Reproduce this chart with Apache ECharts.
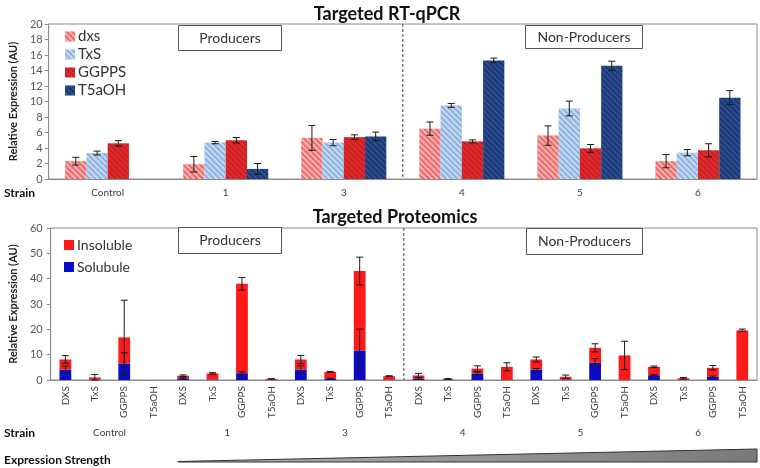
<!DOCTYPE html>
<html><head><meta charset="utf-8">
<script src="https://cdn.jsdelivr.net/npm/echarts@6/dist/echarts.min.js"></script>
<style>html,body{margin:0;padding:0;background:#fff}#c{width:760px;height:468px}</style>
</head><body><div id="c"></div>
<script>
// ---------- DATA ----------
const strains = ['Control', '1', '3', '4', '5', '6'];
const genes = ['DXS', 'TxS', 'GGPPS', 'T5aOH'];
const qpcrNames = ['dxs', 'TxS', 'GGPPS', 'T5aOH'];
const qpcrDxs      = [2.3, 1.9, 5.3, 6.5, 5.6, 2.3];
const qpcrDxsErr   = [0.5, 1.0, 1.6, 0.85, 1.25, 0.85];
const qpcrTxs      = [3.35, 4.7, 4.7, 9.5, 9.1, 3.4];
const qpcrTxsErr   = [0.25, 0.15, 0.4, 0.25, 0.95, 0.4];
const qpcrGgpps    = [4.6, 5.0, 5.4, 4.85, 3.95, 3.7];
const qpcrGgppsErr = [0.35, 0.35, 0.3, 0.2, 0.5, 0.85];
const qpcrT5aoh    = [null, 1.3, 5.5, 15.3, 14.6, 10.5];
const qpcrT5aohErr = [null, 0.7, 0.55, 0.3, 0.6, 0.9];
const qpcrTicks = [0, 2, 4, 6, 8, 10, 12, 14, 16, 18, 20];

// proteomics: 24 bars, order strain x gene
const protSoluble      = [4.1, 0.1, 6.5, 0,   0.6, 0.2, 2.7, 0,   4.15, 0.6, 11.7, 0,   0.6, 0.1, 2.6, 0,   4.15, 0.2, 6.8, 0,   1.9, 0,   1.25, 0];
const protInsoluble    = [4.0, 0.9, 10.3, 0,  1.1, 2.4, 35.3, 0.4, 3.95, 2.6, 31.3, 1.5, 1.2, 0.3, 1.9, 5.2, 3.95, 1.05, 5.9, 9.7, 3.3, 0.7, 3.55, 19.6];
const protTotalErr     = [1.5, 1.2, 14.7, 0,  0.3, 0.3, 2.5, 0.1, 1.6, 0.2, 5.5, 0.2,   0.8, 0.2, 1.1, 1.6, 1.0, 0.7, 1.6, 5.6,   0.3, 0.3, 0.9, 0.5];
const protSolubleErr   = [1.4, 0,   4.2, 0,   0.2, 0,   0.5, 0,   1.5, 0.1, 8.4, 0,     0.3, 0,   0.5, 0,   0.4, 0,   1.7, 0,     0.2, 0,   0.3, 0];
const protTicks = [0, 10, 20, 30, 40, 50, 60];

// ---------- BUILD ----------
const protCats = [];
strains.forEach(s => genes.forEach(g => protCats.push(g)));
const FONT = 'Lato, "Liberation Sans", sans-serif';
const GAP = 0.28;

function errRender(slot, n, gapFrac) {
  return function (params, api) {
    const cat = api.value(0), v = api.value(1), e = api.value(2);
    if (v == null || isNaN(v) || !e) return null;
    const base = api.coord([cat, 0]);
    const band = api.size([1, 0])[0];
    const groupW = band * (1 - gapFrac);
    const bw = groupW / n;
    const x = base[0] - groupW / 2 + bw * (slot + 0.5);
    const yHi = api.coord([cat, v + e])[1];
    const yLo = api.coord([cat, Math.max(0, v - e)])[1];
    const cap = 3.5;
    const st = { stroke: '#1a1a1a', lineWidth: 1 };
    return { type: 'group', children: [
      { type: 'line', shape: { x1: x, y1: yHi, x2: x, y2: yLo }, style: st },
      { type: 'line', shape: { x1: x - cap, y1: yHi, x2: x + cap, y2: yHi }, style: st },
      { type: 'line', shape: { x1: x - cap, y1: yLo, x2: x + cap, y2: yLo }, style: st }
    ]};
  };
}

const qpcrVals = [qpcrDxs, qpcrTxs, qpcrGgpps, qpcrT5aoh];
const qpcrErrs = [qpcrDxsErr, qpcrTxsErr, qpcrGgppsErr, qpcrT5aohErr];
const qpcrStyles = [
  { color: '#f06868', decal: { symbol: 'rect', dashArrayX: [1, 0], dashArrayY: [1.5, 2], rotation: Math.PI / 4, color: 'rgba(255,255,255,0.5)' } },
  { color: '#8cb2e0', decal: { symbol: 'rect', dashArrayX: [1, 0], dashArrayY: [1.5, 2], rotation: Math.PI / 4, color: 'rgba(255,255,255,0.5)' } },
  { color: '#dc2a2c', decal: { symbol: 'rect', dashArrayX: [1, 0], dashArrayY: [1, 2.5], rotation: Math.PI / 4, color: 'rgba(150,0,0,0.4)' } },
  { color: '#1c3b7a', decal: { symbol: 'rect', dashArrayX: [1, 0], dashArrayY: [1, 2.5], rotation: Math.PI / 4, color: 'rgba(120,150,210,0.35)' } }
];

const series = [];
qpcrNames.forEach((nm, k) => {
  series.push({
    name: nm, type: 'bar', xAxisIndex: 0, yAxisIndex: 0,
    data: qpcrVals[k], barGap: 0, barCategoryGap: (GAP * 100) + '%',
    itemStyle: qpcrStyles[k]
  });
});
qpcrNames.forEach((nm, k) => {
  series.push({
    type: 'custom', xAxisIndex: 0, yAxisIndex: 0, z: 10, silent: true,
    renderItem: errRender(k, 4, GAP),
    data: strains.map((s, i) => [i, qpcrVals[k][i], qpcrErrs[k][i]])
  });
});
series.push({
  name: 'Solubule', type: 'bar', stack: 'p', xAxisIndex: 1, yAxisIndex: 1,
  data: protSoluble, barWidth: '40%', itemStyle: { color: '#0a0ac8' }
});
series.push({
  name: 'Insoluble', type: 'bar', stack: 'p', xAxisIndex: 1, yAxisIndex: 1,
  data: protInsoluble, barWidth: '40%', itemStyle: { color: '#ff1a1a' }
});
series.push({
  type: 'custom', xAxisIndex: 1, yAxisIndex: 1, z: 10, silent: true,
  renderItem: errRender(0, 1, 0.6),
  data: protSoluble.map((s, i) => [i, s + protInsoluble[i], protTotalErr[i]])
});
series.push({
  type: 'custom', xAxisIndex: 1, yAxisIndex: 1, z: 10, silent: true,
  renderItem: errRender(0, 1, 0.6),
  data: protSoluble.map((s, i) => [i, s, protSolubleErr[i]])
});

const axisLbl = { color: '#595959', fontSize: 11, fontFamily: FONT };
const lineGray = { color: '#8c8c8c', width: 1 };

const option = {
  animation: false,
  backgroundColor: '#fff',
  textStyle: { fontFamily: FONT },
  title: [
    { text: 'Targeted RT-qPCR', left: 382, top: 0, textAlign: 'center',
      textStyle: { fontSize: 18, fontWeight: 'bold', color: '#111', fontFamily: FONT } },
    { text: 'Targeted Proteomics', left: 390, top: 203, textAlign: 'center',
      textStyle: { fontSize: 18, fontWeight: 'bold', color: '#111', fontFamily: FONT } }
  ],
  legend: [
    { data: qpcrNames, orient: 'vertical', left: 60, top: 24, itemWidth: 10, itemHeight: 10, itemGap: 3,
      icon: 'rect', textStyle: { fontSize: 15, color: '#333', fontFamily: FONT, padding: [0, 0, 0, -2] } },
    { data: ['Insoluble', 'Solubule'], orient: 'vertical', left: 59, top: 233, itemWidth: 10, itemHeight: 10, itemGap: 8,
      icon: 'rect', textStyle: { fontSize: 14, color: '#333', fontFamily: FONT, padding: [0, 0, 0, -2] } }
  ],
  grid: [
    { left: 45, right: 3, top: 24, bottom: 289, show: true, borderColor: '#8c8c8c', borderWidth: 1 },
    { left: 47, right: 3, top: 228, bottom: 88, show: true, borderColor: '#8c8c8c', borderWidth: 1 }
  ],
  xAxis: [
    { type: 'category', gridIndex: 0, data: strains,
      axisLine: { lineStyle: lineGray }, axisTick: { length: 4, lineStyle: lineGray },
      axisLabel: { color: '#404040', fontSize: 10, margin: 9, fontFamily: FONT } },
    { type: 'category', gridIndex: 1, data: protCats,
      axisLine: { lineStyle: lineGray }, axisTick: { length: 40, lineStyle: { color: '#bfbfbf' } },
      axisLabel: { color: '#404040', fontSize: 10, rotate: 90, margin: 6, interval: 0, fontFamily: FONT } },
    { type: 'category', gridIndex: 1, data: strains, position: 'bottom',
      axisLine: { show: false }, axisTick: { length: 60, lineStyle: { color: '#bfbfbf' } },
      axisLabel: { color: '#404040', fontSize: 10, margin: 48, fontFamily: FONT } }
  ],
  yAxis: [
    { type: 'value', gridIndex: 0, min: qpcrTicks[0], max: qpcrTicks[qpcrTicks.length - 1], interval: 2,
      name: 'Relative Expression (AU)', nameLocation: 'middle', nameGap: 26,
      nameTextStyle: { fontSize: 11, fontWeight: 'bold', color: '#222', fontFamily: FONT },
      axisLine: { show: true, lineStyle: lineGray }, axisTick: { show: true, length: 4, lineStyle: lineGray },
      splitLine: { show: false }, axisLabel: Object.assign({ margin: 6 }, axisLbl) },
    { type: 'value', gridIndex: 1, min: protTicks[0], max: protTicks[protTicks.length - 1], interval: 10,
      name: 'Relative Expression (AU)', nameLocation: 'middle', nameGap: 28,
      nameTextStyle: { fontSize: 11, fontWeight: 'bold', color: '#222', fontFamily: FONT },
      axisLine: { show: true, lineStyle: lineGray }, axisTick: { show: true, length: 4, lineStyle: lineGray },
      splitLine: { show: false }, axisLabel: Object.assign({ margin: 8 }, axisLbl) }
  ],
  series: series
};

const chart = echarts.init(document.getElementById('c'), null, { renderer: 'canvas' });
chart.setOption(option);

// annotations positioned from the axes
const xTop = (chart.convertToPixel({ xAxisIndex: 0 }, 2) + chart.convertToPixel({ xAxisIndex: 0 }, 3)) / 2;
const xBot = (chart.convertToPixel({ xAxisIndex: 1 }, 11) + chart.convertToPixel({ xAxisIndex: 1 }, 12)) / 2;
const yTop0 = chart.convertToPixel({ yAxisIndex: 0 }, 20), yTop1 = chart.convertToPixel({ yAxisIndex: 0 }, 0);
const yBot0 = chart.convertToPixel({ yAxisIndex: 1 }, 60), yBot1 = chart.convertToPixel({ yAxisIndex: 1 }, 0);

function box(x, y, w, h, txt) {
  return [
    { type: 'rect', shape: { x: x, y: y, width: w, height: h }, style: { fill: '#fff', stroke: '#555', lineWidth: 1 }, z: 20 },
    { type: 'text', x: x + w / 2, y: y + h / 2, z: 21,
      style: { text: txt, fill: '#333', font: '14px ' + FONT, textAlign: 'center', textVerticalAlign: 'middle' } }
  ];
}
const dashStyle = { stroke: '#444', lineWidth: 1, lineDash: [3, 2] };
chart.setOption({
  graphic: [
    { type: 'line', shape: { x1: xTop, y1: yTop0, x2: xTop, y2: yTop1 }, style: dashStyle, z: 5 },
    { type: 'line', shape: { x1: xBot, y1: yBot0, x2: xBot, y2: yBot1 }, style: dashStyle, z: 5 },
    ...box(178.5, 25.5, 103, 25, 'Producers'),
    ...box(525.5, 25.5, 117, 23, 'Non-Producers'),
    ...box(178.5, 227.5, 103, 26, 'Producers'),
    ...box(526.5, 228.5, 116, 26, 'Non-Producers'),
    { type: 'text', x: 4, y: 193, style: { text: 'Strain', fill: '#111', font: 'bold 12px ' + FONT, textVerticalAlign: 'middle' } },
    { type: 'text', x: 4, y: 433, style: { text: 'Strain', fill: '#111', font: 'bold 12px ' + FONT, textVerticalAlign: 'middle' } },
    { type: 'text', x: 4, y: 460, style: { text: 'Expression Strength', fill: '#111', font: 'bold 12px ' + FONT, textVerticalAlign: 'middle' } },
    { type: 'polygon', shape: { points: [[178, 461.5], [757, 449], [757, 462], [178, 462]] },
      style: { fill: new echarts.graphic.LinearGradient(0, 0, 1, 0, [{ offset: 0, color: '#b0b0b0' }, { offset: 1, color: '#7a7a7a' }]),
               stroke: '#333', lineWidth: 1 } }
  ]
});
</script>
</body></html>
